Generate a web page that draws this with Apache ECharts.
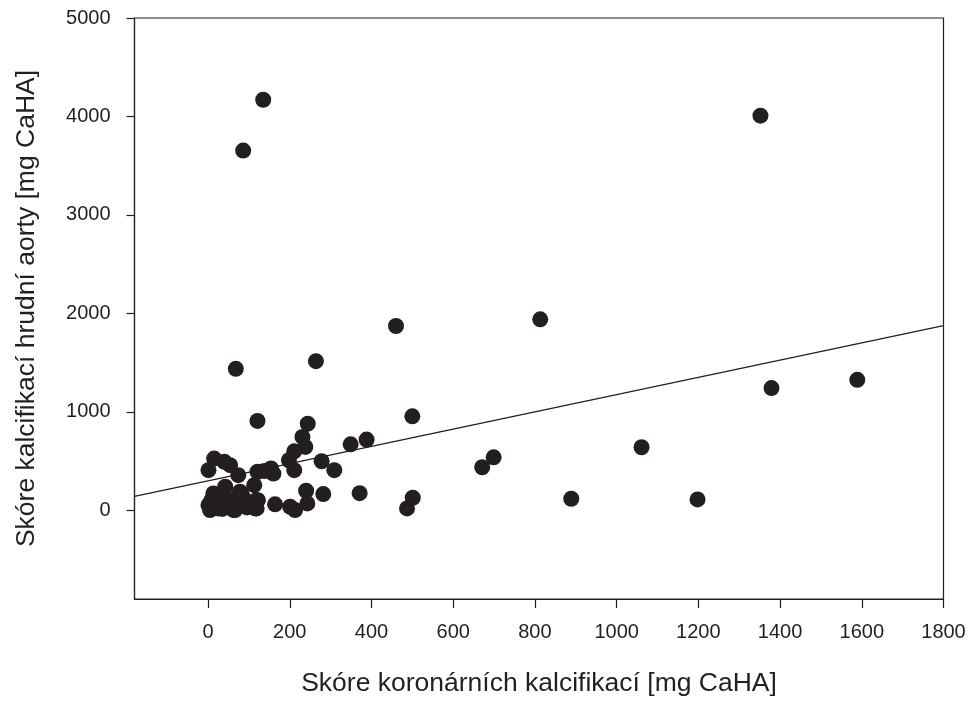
<!DOCTYPE html>
<html>
<head>
<meta charset="utf-8">
<script src="https://cdn.jsdelivr.net/npm/echarts@6/dist/echarts.min.js"></script>
<style>
html,body{margin:0;padding:0;background:#fff;}
#chart{width:971px;height:702px;}
</style>
</head>
<body>
<div id="chart"></div>
<script>
// Coronary calcification score (x) vs thoracic aorta calcification score (y)
const coronaryScores = [
  1, 15, 40, 54, 74, 121, 138, 154, 160, 113, 42, 78, 13, 29, 1, 5, 25, 50, 70, 87,
  62, 122, 119, 164, 201, 213, 8, 22, 35, 95, 60, 18,
  244, 231, 238, 211, 198, 211, 349, 388, 278, 309, 240, 282, 371, 501, 487, 243,
  82, 74, 66, 118, 115,
  135, 86, 1352, 813, 460, 68, 264, 500, 121,
  1379, 1589, 699, 671, 1061, 889, 1198
];
const aortaScores = [
  408, 526, 493, 459, 357, 392, 400, 425, 374, 256, 240, 189, 172, 138, 54, 3, 20, 37, 54, 121,
  5, 104, 20, 61, 37, 3, 100, 75, 15, 30, 110, 40,
  880, 746, 644, 600, 509, 408, 671, 719, 499, 408, 199, 165, 175, 128, 20, 71,
  172, 121, 3, 104, 20,
  4170, 3654, 4008, 1940, 1872, 1437, 1515, 955, 908,
  1242, 1326, 539, 438, 641, 118, 111
];
// Regression line endpoints (data units)
const trendX = [-180, 1800];
const trendY = [142, 1877];
const xTicks = [0, 200, 400, 600, 800, 1000, 1200, 1400, 1600, 1800];
const yTicks = [0, 1000, 2000, 3000, 4000, 5000];
const xTitle = 'Skóre koronárních kalcifikací [mg CaHA]';
const yTitle = 'Skóre kalcifikací hrudní aorty [mg CaHA]';

const ink = '#231f20';
const font = 'Liberation Sans, Arial, Helvetica, sans-serif';

const points = coronaryScores.map((x, i) => [x, aortaScores[i]]);
const trend = trendX.map((x, i) => [x, trendY[i]]);
const plain = v => String(v);

const chart = echarts.init(document.getElementById('chart'), null, {renderer: 'canvas'});
chart.setOption({
  animation: false,
  backgroundColor: '#ffffff',
  grid: {
    left: 134.5, right: 27.5, top: 18, bottom: 101,
    show: true, borderColor: ink, borderWidth: 1.2, containLabel: false
  },
  xAxis: {
    type: 'value', min: -180, max: 1800,
    name: xTitle, nameLocation: 'middle', nameGap: 71,
    nameTextStyle: {color: ink, fontSize: 26.5, fontFamily: font},
    axisLine: {show: true, onZero: false, lineStyle: {color: ink, width: 1.2}},
    axisTick: {show: true, length: 9, customValues: xTicks, lineStyle: {color: ink, width: 1.2}},
    axisLabel: {customValues: xTicks, formatter: plain, color: ink, fontSize: 20, fontFamily: font, margin: 23},
    splitLine: {show: false}
  },
  yAxis: {
    type: 'value', min: -900, max: 5000,
    name: yTitle, nameLocation: 'middle', nameGap: 94,
    nameTextStyle: {color: ink, fontSize: 26.5, fontFamily: font},
    axisLine: {show: true, onZero: false, lineStyle: {color: ink, width: 1.2}},
    axisTick: {show: true, length: 8, customValues: yTicks, lineStyle: {color: ink, width: 1.2}},
    axisLabel: {customValues: yTicks, formatter: plain, color: ink, fontSize: 20, fontFamily: font, margin: 24},
    splitLine: {show: false}
  },
  series: [
    {
      type: 'line', data: trend, showSymbol: false, symbol: 'none',
      lineStyle: {color: ink, width: 1.3}, z: 2, silent: true
    },
    {
      type: 'scatter', data: points, symbol: 'circle', symbolSize: 16,
      itemStyle: {color: ink, opacity: 1}, z: 3
    }
  ]
});
</script>
</body>
</html>
